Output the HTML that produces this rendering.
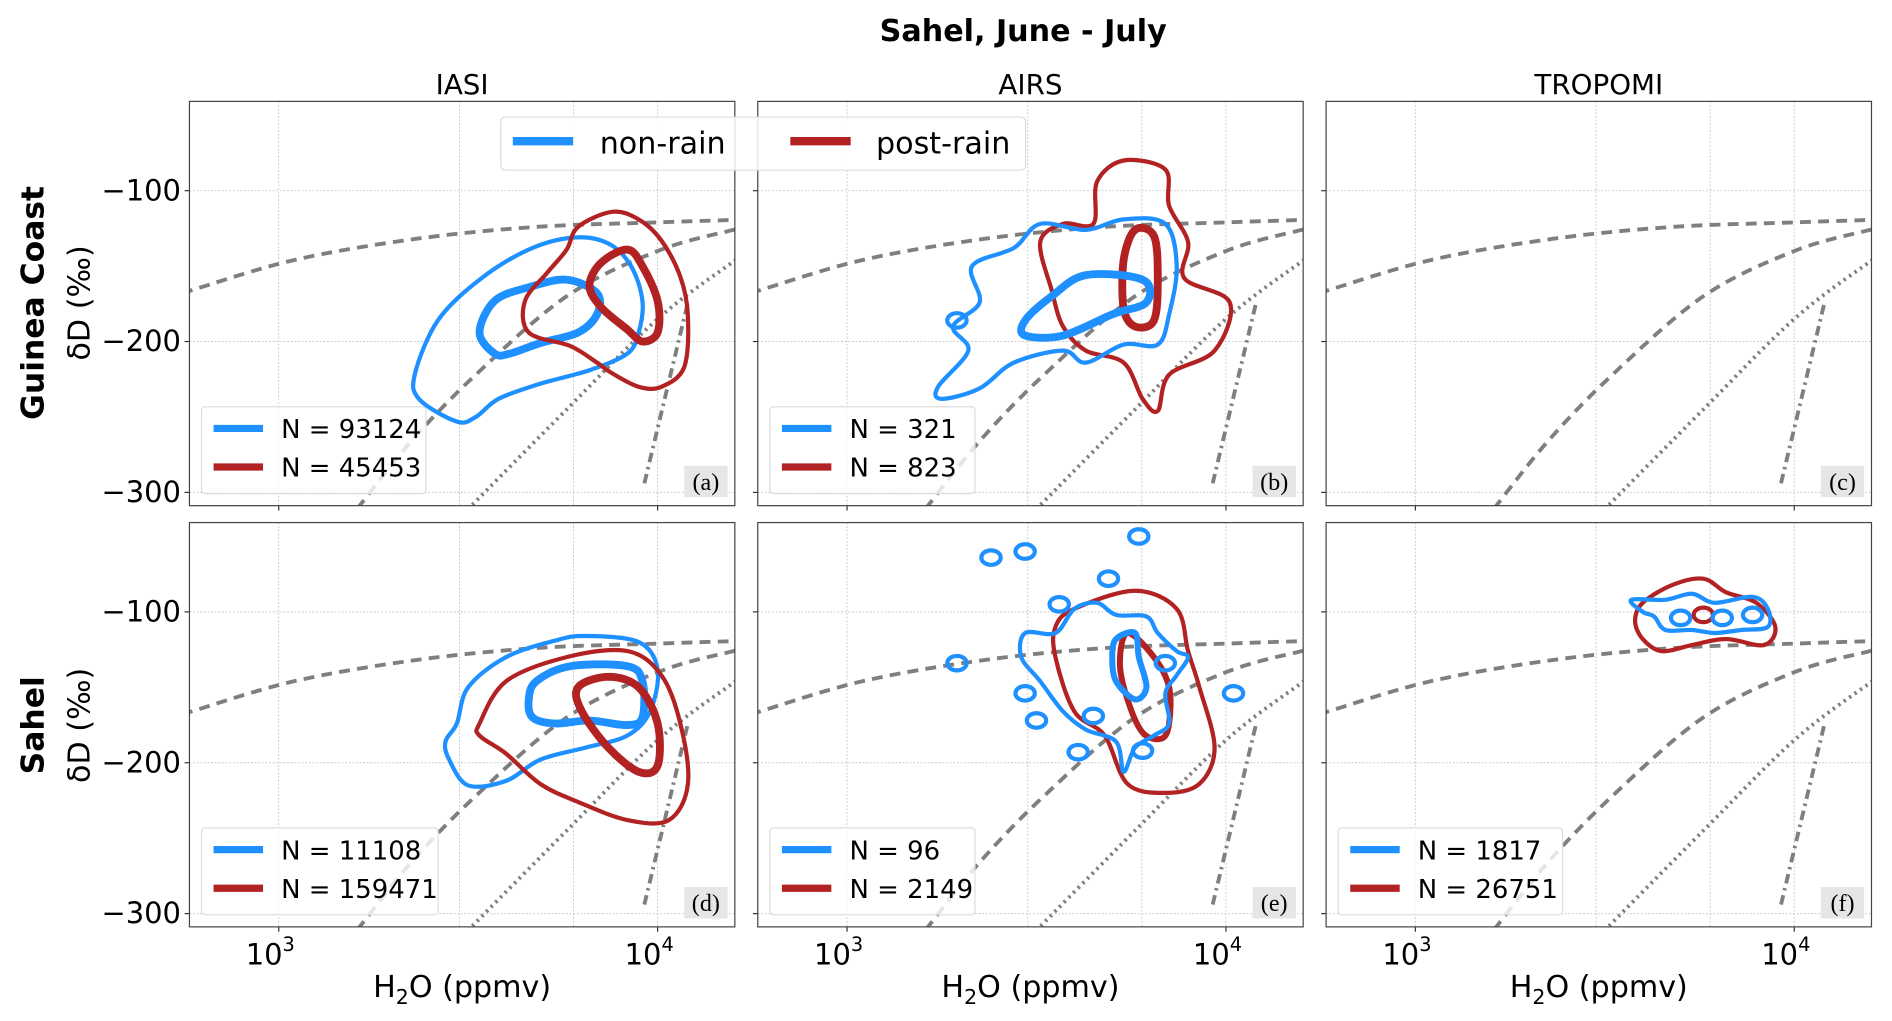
<!DOCTYPE html>
<html><head><meta charset="utf-8">
<style>
html,body{margin:0;padding:0;background:#fff;}
svg{display:block;font-family:"DejaVu Sans","Liberation Sans",sans-serif;}
</style></head>
<body>
<svg id="fig" width="1892" height="1021" viewBox="0 0 1568 846" preserveAspectRatio="none" xmlns="http://www.w3.org/2000/svg">
<text x="848" y="34" text-anchor="middle" font-size="25" font-weight="bold">Sahel, June - July</text>
<text x="383" y="78" text-anchor="middle" font-size="23">IASI</text>
<text x="854" y="78" text-anchor="middle" font-size="23">AIRS</text>
<text x="1325" y="78" text-anchor="middle" font-size="23">TROPOMI</text>
<text transform="translate(36,251) rotate(-90)" text-anchor="middle" font-size="26" font-weight="bold">Guinea Coast</text>
<text transform="translate(74,251) rotate(-90)" text-anchor="middle" font-size="25">δD (‰)</text>
<text transform="translate(36,601) rotate(-90)" text-anchor="middle" font-size="26" font-weight="bold">Sahel</text>
<text transform="translate(74,601) rotate(-90)" text-anchor="middle" font-size="25">δD (‰)</text>
<g id="panels"></g>
</svg>
<script>
// ---- gray reference curves (log10 q, dD) ----
const curveDashLq = [2.7,2.77,3.04,3.36,3.68,4.0,4.25];
const curveDashD  = [-172,-166,-146,-132,-124,-121,-119];
const curveSteepLq = [3.15,3.21,3.35,3.52,3.76,4.0,4.2,4.25];
const curveSteepD  = [-330,-310,-266,-222,-170,-140,-126,-124];
const curveDotLq = [3.45,3.5,3.76,4.0,4.2,4.25];
const curveDotD  = [-324,-311,-245,-185,-147,-139];
const curveDashDotLq = [3.965,4.08];
const curveDashDotD  = [-294,-174];

// ---- contour data per panel ----
const aBlueOuterLq=[3.47,3.37,3.36,3.42,3.53,3.66,3.78,3.87,3.93,3.96,3.95,3.92,3.82,3.69,3.58,3.52];
const aBlueOuterD=[-253,-238,-221,-186,-159,-139,-131,-135,-150,-173,-194,-208,-219,-228,-238,-250];
const aBlueInnerLq=[3.57,3.53,3.57,3.66,3.76,3.84,3.84,3.79,3.69,3.61];
const aBlueInnerD=[-208,-194,-173,-164,-159,-168,-182,-194,-201,-208];
const aRedOuterLq=[3.79,3.88,3.95,4.01,4.06,4.08,4.07,4.01,3.95,3.88,3.84,3.77,3.66,3.65,3.71,3.76];
const aRedOuterD=[-124,-114,-119,-133,-157,-183,-217,-230,-230,-221,-214,-203,-194,-173,-154,-139];
const aRedInnerLq=[3.92,3.96,4.00,4.00,3.96,3.92,3.85,3.82,3.85];
const aRedInnerD=[-139,-150,-173,-194,-200,-192,-177,-163,-148];

const bRedOuterLq=[3.73,3.84,3.85,3.90,3.89,4.01,3.97,3.85,3.82,3.78,3.73,3.63,3.57,3.54,3.51,3.57,3.65,3.66];
const bRedOuterD=[-80,-86,-110,-134,-158,-174,-206,-222,-246,-238,-214,-206,-190,-166,-134,-122,-122,-94];
const bRedInnerLq=[3.76,3.81,3.82,3.81,3.76,3.73,3.73];
const bRedInnerD=[-126,-130,-158,-186,-190,-178,-146];
const bBlueOuterLq=[3.24,3.32,3.28,3.35,3.33,3.44,3.51,3.63,3.73,3.84,3.87,3.85,3.82,3.73,3.63,3.57,3.44,3.35,3.25];
const bBlueOuterD=[-230,-206,-190,-174,-150,-138,-122,-126,-119,-122,-150,-182,-202,-202,-214,-206,-214,-231,-238];
const bBlueInnerLq=[3.47,3.54,3.63,3.78,3.79,3.70,3.57,3.47];
const bBlueInnerD=[-186,-170,-156,-159,-174,-182,-196,-196];
const bBlueBlobLq=[3.29];
const bBlueBlobD=[-186];

const dBlueOuterLq=[3.45,3.44,3.47,3.50,3.60,3.73,3.81,3.95,4.00,3.98,3.92,3.81,3.69,3.60,3.50];
const dBlueOuterD=[-198,-186,-174,-150,-130,-119,-116,-120,-138,-166,-182,-190,-198,-212,-215];
const dRedOuterLq=[3.53,3.60,3.76,3.92,4.01,4.06,4.08,4.03,3.92,3.79,3.69,3.60,3.53];
const dRedOuterD=[-174,-146,-130,-126,-142,-174,-214,-238,-238,-226,-214,-194,-182];
const dBlueInnerLq=[3.66,3.68,3.77,3.92,3.96,3.96,3.92,3.82,3.73,3.67];
const dBlueInnerD=[-158,-146,-136,-136,-146,-170,-175,-172,-174,-170];
const dRedInnerLq=[3.79,3.87,3.95,4.00,4.00,3.95,3.87,3.80];
const dRedInnerD=[-150,-143,-150,-174,-202,-206,-190,-166];

const eRedOuterLq=[3.60,3.76,3.87,3.90,3.93,3.97,3.93,3.84,3.74,3.68,3.60,3.55,3.55];
const eRedOuterD=[-98,-86,-98,-126,-150,-190,-214,-220,-214,-182,-166,-130,-110];
const eRedInnerLq=[3.74,3.81,3.85,3.85,3.83,3.78,3.74,3.72];
const eRedInnerD=[-114,-130,-150,-174,-184,-180,-158,-134];
const eBlueOuterLq=[3.47,3.55,3.60,3.66,3.71,3.79,3.82,3.87,3.90,3.87,3.84,3.85,3.81,3.76,3.73,3.71,3.63,3.57,3.51,3.46];
const eBlueOuterD=[-114,-114,-98,-94,-102,-103,-114,-126,-130,-142,-154,-174,-182,-190,-206,-186,-178,-166,-146,-130];
const eBlueInnerLq=[3.71,3.76,3.77,3.79,3.76,3.71,3.70];
const eBlueInnerD=[-118,-114,-130,-150,-158,-146,-130];
const eBlueBlobLq=[3.38,3.47,3.77,3.69,3.56,3.29,3.47,3.50,3.65,3.61,3.78,4.02,3.84];
const eBlueBlobD=[-64,-60,-50,-78,-95,-134,-154,-172,-169,-193,-192,-154,-134];

const fRedOuterLq=[3.60,3.68,3.76,3.82,3.90,3.95,3.92,3.82,3.73,3.65,3.60,3.58];
const fRedOuterD=[-94,-82,-78,-87,-94,-110,-122,-118,-122,-126,-118,-106];
const fBlueOuterLq=[3.57,3.66,3.73,3.79,3.89,3.93,3.93,3.86,3.79,3.73,3.66,3.63,3.60];
const fBlueOuterD=[-92,-92,-88,-94,-90,-98,-110,-112,-114,-112,-112,-103,-100];
const fRedBlobLq=[3.76];
const fRedBlobD=[-102];
const fBlueBlobLq=[3.70,3.81,3.89];
const fBlueBlobD=[-104,-104,-102];

const yTicks=[-100,-200,-300];
const xTickLq=[3,4];
const xGridLq=[3,3.477,3.778,4];
const legendN=[["93124","45453"],["321","823"],null,["11108","159471"],["96","2149"],["1817","26751"]];
const panelLetters=["(a)","(b)","(c)","(d)","(e)","(f)"];

const BLUE="#1e90ff", RED="#b22222", GRAY="#7f7f7f";
const NS="http://www.w3.org/2000/svg";
const colLeft=[157,628,1099], rowTop=[84,433], PW=452, PH=335;

function mk(tag,attrs,parent){const e=document.createElementNS(NS,tag);for(const k in attrs)e.setAttribute(k,attrs[k]);if(parent)parent.appendChild(e);return e;}
function smoothPath(pts,closed){
  const n=pts.length;if(n<2)return "";
  if(n===2)return `M${pts[0][0]},${pts[0][1]}L${pts[1][0]},${pts[1][1]}`;
  const g=i=>closed?pts[(i+n)%n]:pts[Math.max(0,Math.min(n-1,i))];
  let d=`M${pts[0][0].toFixed(1)},${pts[0][1].toFixed(1)}`;
  const m=closed?n:n-1;
  for(let i=0;i<m;i++){const p0=g(i-1),p1=g(i),p2=g(i+1),p3=g(i+2);
    const c1=[p1[0]+(p2[0]-p0[0])/6,p1[1]+(p2[1]-p0[1])/6],c2=[p2[0]-(p3[0]-p1[0])/6,p2[1]-(p3[1]-p1[1])/6];
    d+=`C${c1[0].toFixed(1)},${c1[1].toFixed(1)} ${c2[0].toFixed(1)},${c2[1].toFixed(1)} ${p2[0].toFixed(1)},${p2[1].toFixed(1)}`;}
  return d+(closed?"Z":"");
}
const root=document.getElementById("panels");
const defs=mk("defs",{},root);

const contours=[
 [[aBlueOuterLq,aBlueOuterD,BLUE,3.5],[aBlueInnerLq,aBlueInnerD,BLUE,6.5],[aRedOuterLq,aRedOuterD,RED,3.5],[aRedInnerLq,aRedInnerD,RED,6.5]],
 [[bRedOuterLq,bRedOuterD,RED,3.5],[bRedInnerLq,bRedInnerD,RED,6.5],[bBlueOuterLq,bBlueOuterD,BLUE,3.5],[bBlueInnerLq,bBlueInnerD,BLUE,6.5]],
 [],
 [[dBlueOuterLq,dBlueOuterD,BLUE,3.5],[dRedOuterLq,dRedOuterD,RED,3.5],[dBlueInnerLq,dBlueInnerD,BLUE,6.5],[dRedInnerLq,dRedInnerD,RED,6.5]],
 [[eRedOuterLq,eRedOuterD,RED,3.5],[eRedInnerLq,eRedInnerD,RED,5],[eBlueOuterLq,eBlueOuterD,BLUE,3.5],[eBlueInnerLq,eBlueInnerD,BLUE,5]],
 [[fRedOuterLq,fRedOuterD,RED,3.5],[fBlueOuterLq,fBlueOuterD,BLUE,3.5]]
];
const blobs=[[],[[bBlueBlobLq,bBlueBlobD,BLUE]],[],[],[[eBlueBlobLq,eBlueBlobD,BLUE]],[[fRedBlobLq,fRedBlobD,RED],[fBlueBlobLq,fBlueBlobD,BLUE]]];

for(let p=0;p<6;p++){
  const r=Math.floor(p/3),c=p%3,L=colLeft[c],T=rowTop[r];
  const xs=lq=>L+74+(lq-3)*314;
  const ys=d=>T+74+(-100-d)*1.25;
  const g=mk("g",{},root);
  
  
  const cp=mk("clipPath",{id:"clip"+p},defs);mk("rect",{x:L,y:T,width:PW,height:PH},cp);
  xGridLq.forEach(v=>{const l=mk("line",{x1:xs(v),x2:xs(v),y1:T,y2:T+PH,stroke:"#c8c8c8","stroke-width":0.8,"stroke-dasharray":"1.5 1.5"},g);
    });
  yTicks.forEach(v=>{const l=mk("line",{x1:L,x2:L+PW,y1:ys(v),y2:ys(v),stroke:"#c8c8c8","stroke-width":0.8,"stroke-dasharray":"1.5 1.5"},g);
    
    const t=mk("line",{x1:L-4,x2:L,y1:ys(v),y2:ys(v),stroke:"#333","stroke-width":1},g);
    
    if(c===0){const tx=mk("text",{x:L-7,y:ys(v)+8,"text-anchor":"end","font-size":24},g);tx.textContent="\u2212"+Math.abs(v);
      }
  });
  xTickLq.forEach(v=>{const t=mk("line",{x1:xs(v),x2:xs(v),y1:T+PH,y2:T+PH+4,stroke:"#333","stroke-width":1},g);
    
    if(r===1){const tx=mk("text",{x:xs(v)-7,y:T+PH+31,"text-anchor":"middle","font-size":24},g);tx.textContent="10";
      
      const sp=mk("tspan",{dy:-11,"font-size":16},tx);sp.textContent=String(v);}
  });
  const cg=mk("g",{"clip-path":`url(#clip${p})`},g);
  const gc=[[curveDashLq,curveDashD,"9 6"],[curveSteepLq,curveSteepD,"9 6"],[curveDotLq,curveDotD,"2 3.5"],[curveDashDotLq,curveDashDotD,"8 4 2 4"]];
  gc.forEach(([lx,ly,da],i)=>{const pts=lx.map((v,k)=>[xs(v),ys(ly[k])]);
    const e=mk("path",{d:smoothPath(pts,false),fill:"none",stroke:GRAY,"stroke-width":3.2,"stroke-dasharray":da},cg);
    
    });
  contours[p].forEach(([lx,ly,col,w])=>{const pts=lx.map((v,k)=>[xs(v),ys(ly[k])]);
    const e=mk("path",{d:smoothPath(pts,true),fill:"none",stroke:col,"stroke-width":w,"stroke-linejoin":"round"},cg);
    
    });
  blobs[p].forEach(([lx,ly,col])=>{lx.forEach((v,k)=>{
    const e=mk("ellipse",{cx:xs(v),cy:ys(ly[k]),rx:8,ry:6,fill:"none",stroke:col,"stroke-width":3.5},cg);
    
    });});
  const fr=mk("rect",{x:L,y:T,width:PW,height:PH,fill:"none",stroke:"#444","stroke-width":1},g);
  
  if(legendN[p]){const lg=mk("g",{},g);
    
    const w=legendN[p][1].length>5?196:(legendN[p][1].length>4?186:170);
    mk("rect",{x:L+10,y:T+253,width:w,height:72,rx:3,fill:"rgba(255,255,255,0.8)",stroke:"#ddd","stroke-width":1},lg);
    [BLUE,RED].forEach((col,k)=>{const yy=T+271+k*32;
      mk("line",{x1:L+20,x2:L+61,y1:yy,y2:yy,stroke:col,"stroke-width":6},lg);
      const t=mk("text",{x:L+76,y:yy+8,"font-size":21.5},lg);t.textContent="N = "+legendN[p][k];
      });
  }
  mk("rect",{x:L+PW-42,y:T+302,width:36,height:26,fill:"#e6e6e6"},g);
  const lt=mk("text",{x:L+PW-24,y:T+322,"text-anchor":"middle","font-size":20,"font-family":"Liberation Serif, serif"},g);
  lt.textContent=panelLetters[p];
  
  if(r===1){const xl=mk("text",{x:L+226,y:826,"text-anchor":"middle","font-size":25},g);
    
    xl.appendChild(document.createTextNode("H"));const s=mk("tspan",{dy:6,"font-size":17},xl);s.textContent="2";
    const s2=mk("tspan",{dy:-6},xl);s2.textContent="O (ppmv)";}
}
const tl=mk("g",{},root);

mk("rect",{x:415,y:97,width:435,height:44,rx:4,fill:"rgba(255,255,255,0.85)",stroke:"#ddd","stroke-width":1},tl);
[[425,BLUE,497,"non-rain"],[655,RED,726,"post-rain"]].forEach(([x,col,tx,txt])=>{
  mk("line",{x1:x,x2:x+50,y1:117,y2:117,stroke:col,"stroke-width":7},tl);
  const t=mk("text",{x:tx,y:127,"font-size":25},tl);t.textContent=txt;
  });
</script>
</body></html>
